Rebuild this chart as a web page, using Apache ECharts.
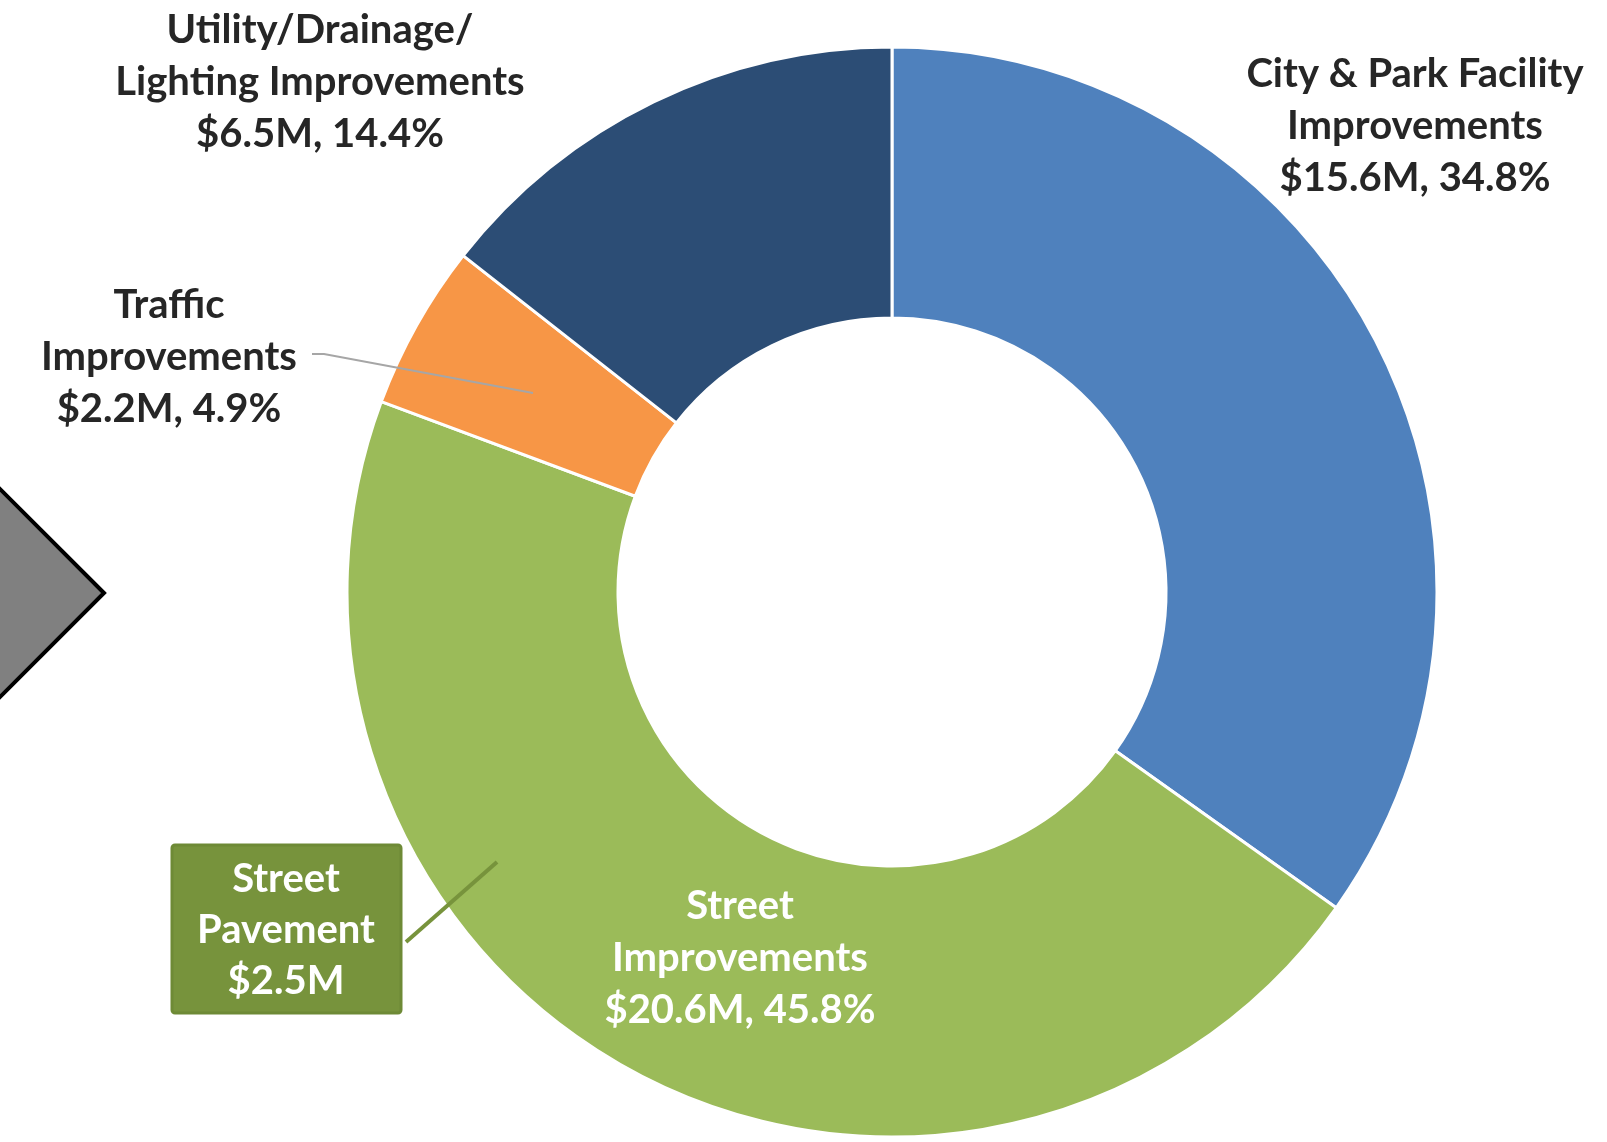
<!DOCTYPE html>
<html>
<head>
<meta charset="utf-8">
<script src="https://cdn.jsdelivr.net/npm/echarts@6/dist/echarts.min.js"></script>
<style>
  html, body { margin: 0; padding: 0; background: #fff; }
  #chart { width: 1607px; height: 1142px; }
</style>
</head>
<body>
<div id="chart"></div>
<script>
// categories, clockwise from 12 o'clock
const names = [
  "City & Park Facility\nImprovements",
  "Street\nImprovements",
  "Traffic\nImprovements",
  "Utility/Drainage/\nLighting Improvements"
];
const amounts = [15.6, 20.6, 2.2, 6.5]; // $M
const shares = [34.8, 45.8, 4.9, 14.4]; // %
const colors = ["#4F81BD", "#9BBB59", "#F79646", "#2C4D75"];

// call-out inside the street slice
const pavementName = "Street\nPavement";
const pavementAmount = 2.5;

// where each label sits (center of the text block)
const labelPos = [[1415, 126], [740, 958], [169, 357], [320, 82]];

const chart = echarts.init(document.getElementById("chart"));
const font = "Lato, 'Open Sans', sans-serif";

const pieData = names.map((n, i) => ({
  name: n,
  value: shares[i],
  itemStyle: { color: colors[i] },
  label: { color: i === 1 ? "#ffffff" : "#262626" }
}));

const option = {
  animation: false,
  series: [
    {
      type: "pie",
      center: [892, 592],
      radius: [274, 545],
      startAngle: 90,
      clockwise: true,
      itemStyle: { borderColor: "#fff", borderWidth: 3 },
      label: {
        show: true,
        position: "outside",
        fontFamily: font,
        fontWeight: "bold",
        fontSize: 40,
        lineHeight: 52,
        align: "center",
        overflow: "none",
        width: 600,
        formatter: (p) => `${p.name}\n$${amounts[p.dataIndex]}M, ${shares[p.dataIndex]}%`
      },
      labelLine: { show: false },
      labelLayout: (p) => ({
        x: labelPos[p.dataIndex][0],
        y: labelPos[p.dataIndex][1],
        align: "center",
        verticalAlign: "middle"
      }),
      emphasis: { disabled: true },
      data: pieData
    }
  ],
  graphic: [
    {
      // gray arrow cut off at the left edge
      type: "polygon",
      shape: { points: [[104, 593], [-10, 479], [-124, 593], [-10, 707]] },
      style: { fill: "#808080", stroke: "#000", lineWidth: 4 },
      z: 10
    },
    {
      // traffic leader line
      type: "polyline",
      shape: { points: [[312, 354], [324, 354], [533, 393]] },
      style: { stroke: "#A6A6A6", lineWidth: 2, fill: null },
      z: 10
    },
    {
      // pavement leader line
      type: "line",
      shape: { x1: 406, y1: 942, x2: 497, y2: 862 },
      style: { stroke: "#77933C", lineWidth: 4 },
      z: 10
    },
    {
      type: "rect",
      shape: { x: 172, y: 845, width: 229, height: 168, r: 3 },
      style: { fill: "#77933C", stroke: "#6E8A36", lineWidth: 3 },
      z: 10
    },
    {
      type: "text",
      x: 286,
      y: 930,
      style: {
        text: `${pavementName}\n$${pavementAmount}M`,
        fill: "#fff",
        font: `bold 40px ${font}`,
        lineHeight: 51,
        align: "center",
        verticalAlign: "middle"
      },
      z: 11
    }
  ]
};

chart.setOption(option);
</script>
</body>
</html>
